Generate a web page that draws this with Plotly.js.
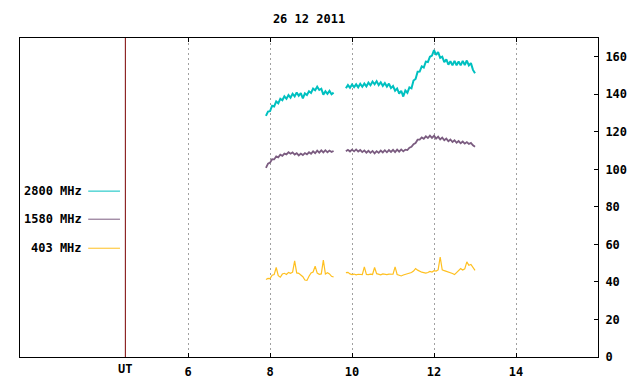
<!DOCTYPE html>
<html>
<head>
<meta charset="utf-8">
<script src="https://cdn.plot.ly/plotly-3.0.1.min.js"></script>
<style>html,body{margin:0;padding:0;background:#fff;}#chart{width:640px;height:384px;}</style>
</head>
<body>
<div id="chart"></div>
<script>
// Time grid: first sample (UT hours) and sampling step
const startHour = 7.90;
const stepHour = 0.05;

// 2800 MHz flux (null = no data)
const flux2800 = [
  128.5,130.8,131.0,133.9,133.5,136.2,135.2,137.6,136.8,138.9,
  137.6,139.6,138.2,140.3,138.9,141.0,139.2,140.6,137.8,140.5,
  139.6,141.6,140.7,143.0,142.1,144.0,142.3,143.0,139.8,141.6,
  140.2,141.8,140.0,140.9,
  null,null,null,null,null,
  143.2,144.9,143.5,
  145.2,143.8,145.3,143.7,145.6,144.0,145.7,144.2,146.2,144.8,
  146.8,145.3,147.0,144.9,146.4,144.5,146.0,144.1,145.7,143.3,
  144.4,141.9,143.1,140.4,141.9,138.8,142.0,140.8,143.7,143.2,
  147.3,148.2,152.0,152.1,154.9,154.3,157.4,157.2,160.0,160.6,
  163.5,161.0,162.5,159.4,160.0,157.1,158.6,155.8,157.6,155.4,
  157.8,155.5,157.5,155.4,157.8,155.6,158.0,155.4,156.6,153.0,
  151.2
];

// 1580 MHz flux
const flux1580 = [
  100.8,103.0,103.6,105.4,105.3,106.9,106.4,107.8,107.2,108.4,
  108.0,109.1,108.3,109.0,107.9,108.6,107.4,108.4,107.6,108.7,
  108.0,109.1,108.3,109.6,108.6,110.0,108.9,110.1,109.0,110.2,
  109.1,110.0,109.3,109.8,
  null,null,null,null,null,
  109.6,110.4,109.5,
  110.5,109.6,110.6,109.5,110.3,109.2,110.1,108.9,109.9,108.8,
  109.8,108.5,109.7,108.8,110.0,109.0,110.2,109.1,110.3,109.3,
  110.4,109.2,110.5,109.4,110.6,109.6,110.5,110.3,111.5,112.0,
  113.4,114.0,115.8,115.9,117.0,116.3,117.6,116.7,118.0,116.8,
  117.9,116.4,117.4,115.9,116.9,115.5,116.4,115.0,115.9,114.6,
  115.5,114.2,115.1,113.9,114.8,113.7,114.5,113.5,114.1,112.8,
  112.0
];

// 403 MHz flux
const flux403 = [
  41.3,41.9,41.8,43.6,43.9,47.7,43.3,42.5,44.2,44.6,
  44.0,45.1,44.6,45.2,51.2,44.8,44.6,43.5,42.8,41.0,
  40.8,43.0,44.8,45.3,48.4,44.7,44.1,44.3,51.6,44.2,
  44.9,44.3,43.0,42.6,
  null,null,null,null,null,
  45.0,45.1,44.3,
  43.9,44.2,43.8,44.1,44.0,43.9,48.0,44.0,43.9,44.2,
  44.0,47.7,44.4,44.1,43.8,44.3,44.0,43.9,44.2,44.0,
  44.1,48.0,44.0,43.6,43.2,43.7,44.0,44.3,44.5,45.0,
  45.8,47.1,46.3,45.6,45.2,45.0,44.7,45.0,45.6,45.3,
  46.0,45.8,46.4,53.3,46.5,46.0,45.7,45.4,45.0,44.5,
  43.9,45.0,45.6,47.1,46.4,47.0,50.7,48.9,49.3,47.5,
  46.2
];

const seriesNames = ['2800 MHz', '1580 MHz', '403 MHz'];
const seriesColors = ['#00c0c0', '#7b5c80', '#ffc020'];
const xTicks = [6, 8, 10, 12, 14];
const yTicks = [0, 20, 40, 60, 80, 100, 120, 140, 160];
const utMarker = 4.47;
const titleText = '26 12 2011';

const monoFont = {family: 'DejaVu Sans Mono, Liberation Mono, monospace', size: 12, color: '#000', weight: 'bold'};

const seriesData = [flux2800, flux1580, flux403];
const traces = seriesData.map((ys, i) => ({
  type: 'scatter',
  mode: 'lines',
  x0: startHour,
  dx: stepHour,
  y: ys,
  name: seriesNames[i],
  connectgaps: false,
  line: {color: seriesColors[i], width: i === 0 ? 2 : (i === 1 ? 1.8 : 1.2)},
  hoverinfo: 'skip'
}));

// legend (gnuplot style: text then line sample)
const legendY = [0.520, 0.432, 0.341];
const annotations = seriesNames.map((n, i) => ({
  xref: 'paper', yref: 'paper', x: 0.110, y: legendY[i],
  xanchor: 'right', yanchor: 'middle', text: n, showarrow: false, font: monoFont
}));
annotations.push({
  xref: 'x', yref: 'paper', x: utMarker, y: 0, yanchor: 'top', yshift: -3,
  text: 'UT', showarrow: false, font: monoFont
});
const shapes = seriesNames.map((n, i) => ({
  type: 'line', xref: 'paper', yref: 'paper',
  x0: 0.118, x1: 0.173, y0: legendY[i], y1: legendY[i],
  line: {color: seriesColors[i], width: 1}
}));
shapes.push({
  type: 'line', xref: 'x', yref: 'paper', x0: utMarker, x1: utMarker, y0: 0, y1: 1,
  line: {color: '#7a0000', width: 1}
});

const layout = {
  width: 640, height: 384,
  margin: {l: 20, r: 42, t: 38, b: 27, pad: 0},
  paper_bgcolor: '#ffffff', plot_bgcolor: '#ffffff',
  showlegend: false,
  title: {text: titleText, x: 0.5, xref: 'paper', xanchor: 'center', y: 1 - 19/384, yref: 'container', yanchor: 'middle', font: monoFont},
  xaxis: {
    range: [1.9, 16], tickvals: xTicks, ticktext: xTicks.map(String),
    ticks: 'inside', ticklen: 4, tickcolor: '#000', tickwidth: 1,
    showline: true, linecolor: '#000', linewidth: 1, mirror: 'ticks',
    showgrid: true, gridcolor: '#a0a0a0', gridwidth: 1, griddash: '2px,3px',
    zeroline: false, tickfont: monoFont, fixedrange: true, ticklabelstandoff: 4
  },
  yaxis: {
    range: [0, 170], tickvals: yTicks, ticktext: yTicks.map(String), side: 'right',
    ticks: 'inside', ticklen: 4, tickcolor: '#000', tickwidth: 1,
    showline: true, linecolor: '#000', linewidth: 1, mirror: true,
    showgrid: false, zeroline: false, tickfont: monoFont, fixedrange: true, ticklabelstandoff: 4
  },
  annotations: annotations,
  shapes: shapes
};

Plotly.newPlot('chart', traces, layout, {displayModeBar: false, staticPlot: true});
</script>
</body>
</html>
